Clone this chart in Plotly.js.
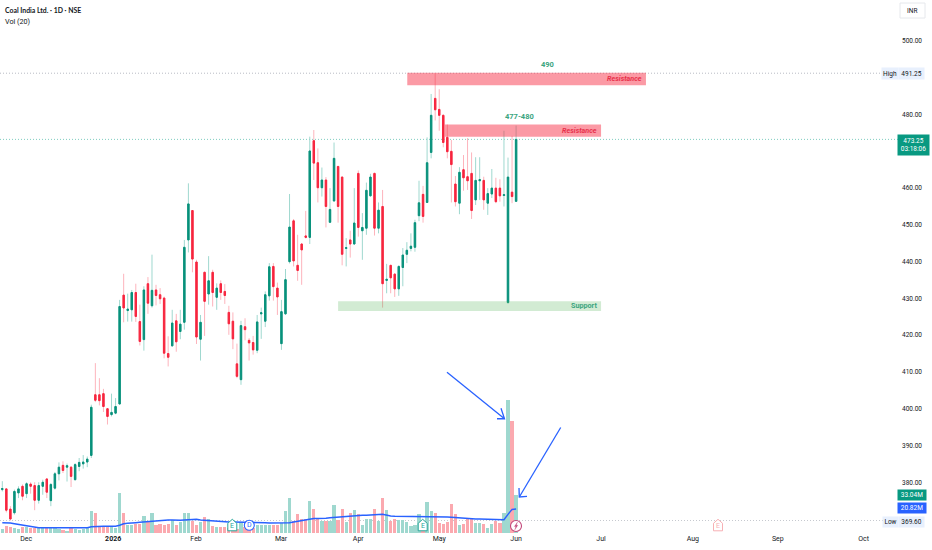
<!DOCTYPE html>
<html><head><meta charset="utf-8">
<script src="https://cdn.plot.ly/plotly-3.0.1.min.js"></script>
<style>html,body{margin:0;padding:0;background:#fff}#c{width:932px;height:550px}</style>
</head><body><div id="c"></div>
<script>
const opens=[378.0,378.2,372.7,371.7,377.1,378.9,376.9,379.5,379.1,375.1,
378.9,380.9,375.0,378.4,382.3,384.6,384.1,384.1,380.7,384.3,
385.0,385.5,387.3,403.8,403.8,404.1,400.0,398.4,398.8,401.3,
430.9,426.7,426.9,431.6,423.7,418.8,434.0,428.0,432.3,431.0,
430.1,415.0,417.1,423.9,421.0,423.5,445.9,453.9,439.9,418.9,
437.1,431.2,437.1,430.3,434.0,431.9,426.2,423.8,412.2,407.9,
422.3,418.6,418.0,415.9,425.8,423.8,430.7,438.7,432.8,417.7,
425.8,440.0,451.1,439.0,444.8,447.0,446.6,472.9,466.9,460.1,
462.2,450.7,456.5,465.9,463.0,443.6,445.9,444.8,464.0,448.4,
449.1,457.9,464.0,449.1,455.0,434.9,439.0,436.6,432.6,438.4,
442.0,443.6,443.9,452.5,458.3,456.1,469.7,484.4,481.4,479.8,
473.8,470.0,461.1,455.9,465.0,463.1,464.0,456.8,462.0,462.1,
455.9,458.4,460.0,460.0,458.0,428.9,458.9,456.4];
const closes=[378.3,372.4,370.0,377.5,378.2,376.2,379.6,378.9,375.1,379.1,
380.0,377.3,379.4,382.3,384.1,383.2,384.5,381.6,384.8,385.4,
385.5,386.3,400.4,402.3,402.2,400.6,397.9,399.0,400.6,427.8,
427.4,427.1,431.6,425.1,418.3,432.3,428.7,432.2,430.8,429.9,
415.1,414.0,423.3,418.2,423.0,443.9,455.7,440.7,419.5,423.5,
429.2,434.8,431.6,432.8,431.6,430.8,423.1,419.0,408.8,422.6,
421.5,417.9,416.0,423.6,426.1,431.0,438.6,433.2,430.4,426.4,
435.1,449.4,440.2,437.6,443.2,446.6,470.1,466.8,460.1,462.2,
455.0,454.2,468.1,455.0,442.0,443.8,444.8,450.5,449.3,449.3,
459.4,463.0,449.1,454.0,434.0,435.2,435.6,432.6,438.7,441.8,
443.1,444.2,450.6,456.0,452.3,466.9,479.8,481.3,479.8,472.4,
469.9,466.4,456.3,464.3,462.8,462.0,453.9,462.1,462.3,456.8,
458.5,460.0,456.3,457.9,458.2,463.0,457.7,473.25];
const highs=[380.3,378.3,373.5,378.0,378.9,379.4,380.0,380.0,380.0,380.0,
380.7,381.0,379.8,382.8,385.4,385.7,385.1,384.4,385.2,386.6,
387.4,387.0,401.1,412.4,408.3,405.4,400.2,404.1,402.9,429.6,
436.7,431.3,432.3,434.0,428.3,433.3,435.8,441.9,433.7,432.8,
430.5,419.7,426.9,425.8,426.9,445.9,461.3,454.0,440.5,425.5,
437.3,441.5,437.8,434.1,434.9,433.9,428.0,426.2,417.7,423.9,
424.6,419.2,419.8,425.5,427.5,431.9,439.6,439.6,434.3,429.6,
438.0,458.4,451.6,447.3,445.0,453.8,474.0,475.8,470.8,465.6,
463.0,460.0,472.4,466.0,463.2,446.4,448.4,460.0,464.8,453.2,
461.5,463.9,464.2,456.1,459.5,439.4,439.1,436.9,439.0,443.7,
445.3,447.7,451.4,462.0,460.6,473.8,485.6,491.25,486.9,480.0,
477.3,473.1,463.3,465.7,469.0,473.6,469.7,468.4,468.4,463.1,
460.0,465.2,462.8,462.4,475.6,468.3,474.2,477.0];
const lows=[377.5,371.8,369.6,371.2,375.7,375.1,375.7,376.9,372.4,374.2,
376.6,375.7,373.5,378.0,380.5,382.5,380.2,378.7,380.5,383.0,
383.7,384.1,386.6,401.8,400.9,399.1,395.7,397.9,398.5,401.1,
423.5,423.7,423.7,423.6,417.2,415.8,425.8,427.5,428.1,428.5,
413.7,411.5,416.9,415.5,418.9,421.5,442.5,437.1,417.6,413.1,
419.8,428.3,427.8,426.9,429.6,428.5,420.1,416.2,408.3,406.5,
418.6,413.1,414.7,415.1,419.0,422.2,429.4,429.4,425.5,416.0,
425.5,439.5,438.7,434.8,433.7,446.3,444.8,462.2,456.1,457.7,
449.3,450.5,456.3,450.6,439.0,438.7,441.1,444.6,446.8,440.5,
447.3,457.7,447.1,447.7,427.5,431.4,431.4,430.4,430.7,433.3,
439.6,442.8,442.7,451.0,450.6,456.0,468.1,478.4,475.6,471.1,
468.1,456.1,455.0,452.9,459.3,459.5,451.6,455.4,456.8,454.1,
452.7,457.3,455.9,456.3,455.0,428.5,455.9,456.3];
const volumes=[3.8,5.8,5.5,4.4,3.8,5.2,4.9,4.4,4.4,4.4,
4.4,4.4,4.6,4.6,3.5,2.3,2.0,5.2,3.2,2.9,
3.2,4.6,19.1,17.7,5.5,5.5,5.5,5.2,4.4,35.0,
17.4,6.7,6.7,8.1,8.1,14.8,10.2,17.4,7.25,7.5,
7.25,8.1,11.0,7.25,9.6,17.7,17.7,10.4,6.7,9.6,
14.2,11.9,6.1,5.5,4.9,5.5,4.4,3.8,3.8,9.6,
5.2,5.2,4.4,7.25,7.25,7.25,7.25,7.25,7.25,9.0,
19.1,30.5,10.7,16.2,11.9,11.9,27.8,20.6,12.5,10.2,
10.2,10.2,24.1,11.0,20.6,9.6,17.7,19.7,16.8,7.25,
12.5,12.5,20.6,10.4,30.5,19.7,10.4,11.9,11.6,11.0,
9.6,6.1,7.25,16.2,8.0,26.9,18.9,17.7,8.7,8.1,
9.6,25.0,16.2,7.25,7.5,12.5,12.5,8.7,8.7,7.5,
4.4,7.5,10.2,9.0,17.7,115.6,97.0,33.04];
const volumeMA=[9,9,8.7,8.1,7.5,6.7,6.1,5.5,4.9,4.6,
4.6,4.6,4.6,4.6,4.6,4.6,4.6,4.6,4.6,4.6,
4.6,4.6,5.5,5.8,5.8,5.8,5.8,5.8,5.8,6.7,
8.1,8.4,8.4,9,9.3,9.6,10.2,10.4,10.7,11,
11,11.3,11.3,11,11,11.3,11.6,11.6,11.9,11.3,
11,10.7,10.4,10.2,10.2,9.9,9.6,9.6,9.6,9.6,
9.6,9.3,9.3,9,9,9,8.7,8.7,8.4,8.4,
8.4,9,9.6,10.2,10.7,11.3,12.2,12.5,12.5,12.5,
12.8,13.3,13.6,13.6,13.9,14.5,15.1,15.4,15.4,15.4,
15.4,15.4,15.7,16,16.2,15.4,14.8,14.5,14.5,14.2,
14.2,13.9,13.9,13.9,13.9,14.2,14.2,14.2,13.9,13.9,
13.9,13.6,13.3,13,12.8,12.5,12.5,12.2,12.2,12.2,
11.9,11.9,11.9,11.9,11.6,16.2,20.5,20.82];
const dateTickPos=[5.9,27.4,47.9,68.9,88,108,127,148,170.7,191.7,212.9];
const dateTickText=['Dec','<b>2026</b>','Feb','Mar','Apr','May','Jun','Jul','Aug','Sep','Oct'];
const priceTicks=[500,480,460,450,440,430,420,410,400,390,380];

const FONT='Roboto,"Liberation Sans",sans-serif';
const W=932,H=550,PW=898,PH=532.7;
const idx=opens.map((_,i)=>i);
const up='#08917B',dn='#F7253E',upL='#9FD8CF',dnL='#FDB4BC';
const fx=x=>x/PW, fy=y=>1-y/PH;
const bodyHi=opens.map((o,i)=>Math.max(o,closes[i]));
const bodyLo=opens.map((o,i)=>Math.min(o,closes[i]));

const traces=[
 {type:'bar',x:idx,y:volumes,yaxis:'y',width:0.8,hoverinfo:'skip',
  marker:{color:opens.map((o,i)=>closes[i]>=o?upL:'#FBA9AF'),line:{width:0}}},
 {type:'scatter',mode:'lines',x:idx,y:volumeMA,yaxis:'y',hoverinfo:'skip',
  line:{color:'#2962FF',width:1.5,shape:'linear'}},
 {type:'candlestick',x:idx,open:opens,high:highs,low:lows,close:closes,yaxis:'y2',hoverinfo:'skip',
  increasing:{line:{color:upL,width:1},fillcolor:upL},
  decreasing:{line:{color:dnL,width:1},fillcolor:dnL}},
 {type:'candlestick',x:idx,open:opens,high:bodyHi,low:bodyLo,close:closes,yaxis:'y2',hoverinfo:'skip',
  increasing:{line:{color:up,width:1},fillcolor:up},
  decreasing:{line:{color:dn,width:1},fillcolor:dn}}
];

const rect=(x0,x1,y0,y1,c)=>({type:'rect',xref:'x',yref:'y2',x0,x1,y0,y1,fillcolor:c,line:{width:0},layer:'above'});
const path=(pts,c,w,fill)=>({type:'path',xref:'paper',yref:'paper',layer:'above',
  path:'M '+pts.map(p=>fx(p[0])+' '+fy(p[1])).join(' L ')+(fill?' Z':''),
  line:{color:c,width:w},fillcolor:fill||'rgba(0,0,0,0)'});
const hline=(p,c,x1)=>({type:'line',xref:'paper',yref:'y2',x0:0,x1:x1,y0:p,y1:p,layer:'below',line:{color:c,width:1,dash:'1px,2px'}});
const house=(cx,c)=>path([[cx-4.5,530.5],[cx-4.5,523],[cx,519],[cx+4.5,523],[cx+4.5,530.5]],c,1,'#fff');
const circle=(cx,cy,r,c)=>({type:'circle',xref:'paper',yref:'paper',layer:'above',x0:fx(cx-r),x1:fx(cx+r),y0:fy(cy+r),y1:fy(cy-r),line:{color:c,width:1.1},fillcolor:'#fff'});

const shapes=[
 hline(491.25,'#B8BCC4',1),hline(369.6,'#C6C9CF',1),hline(473.25,'#7FCDC0',1),
 rect(100.1,159.1,488.0,491.4,'rgba(247,44,66,0.48)'),
 rect(109.4,148,474.0,477.3,'rgba(247,44,66,0.48)'),
 rect(83,148,426.6,429.25,'rgba(76,175,80,0.25)'),
 path([[447,372],[504.5,418.5]],'#2962FF',1.3),
 path([[497,418.5],[504.5,418.5],[501,408]],'#2962FF',1.3),
 path([[560.7,427.3],[519.3,496.7]],'#2962FF',1.3),
 path([[527,496],[519.3,496.7],[519,487.7]],'#2962FF',1.3),
 house(232.3,'#26A69A'),circle(249.3,525,5,'#2962FF'),house(422.7,'#26A69A'),
 circle(516,525.7,5.5,'#C2477A'),
 path([[517.5,521.8],[514.4,526.2],[515.9,526.2],[514.8,529.5],[517.8,525],[516.2,525]],'#C2477A',0.3,'#C2477A'),
 house(718,'#F7B0B4'),
 {type:'rect',xref:'paper',yref:'paper',layer:'above',x0:fx(900),x1:fx(925),y0:fy(18),y1:fy(3),line:{color:'#E6E8EC',width:1},fillcolor:'#fff'}
];
const txt=(x,y,t,o={})=>Object.assign({xref:'paper',yref:'paper',x:fx(x),y:fy(y),text:t,showarrow:false,
  xanchor:o.a||'center',yanchor:'middle',align:o.al||'center',
  font:{family:o.f||FONT,size:o.s||6.5,color:o.c||'#131722'},borderpad:0},
  o.bg?{bgcolor:o.bg,width:o.w,height:o.h}:{});
const G='#3BA57F';
const annotations=[
 txt(4,10,'<b>Coal India Ltd. · 1D · NSE</b>',{a:'left',s:6.9,f:'Lato'}),
 txt(4,21,'Vol (20)',{a:'left',s:7.2}),
 txt(547,64,'<b>490</b>',{c:G,s:7.5}),
 txt(519,116,'<b>477-480</b>',{c:G,s:7.5}),
 txt(643,78,'<b><i>Resistance</i></b>',{a:'right',c:'#E8304A',s:7.2}),
 txt(598,130,'<b><i>Resistance</i></b>',{a:'right',c:'#E8304A',s:7.2}),
 txt(598,305,'<b>Support</b>',{a:'right',c:G,s:7.2}),
 txt(232.3,525.5,'E',{c:'#26A69A',s:7}),
 txt(249.3,525,'D',{c:'#2962FF',s:7}),
 txt(422.7,525.5,'E',{c:'#26A69A',s:7}),
 txt(718,525.5,'E',{c:'#F7B0B4',s:7}),
 txt(912.5,10.5,'INR',{s:6.5}),
 txt(890,73.8,'High',{bg:'#E8F0FD',w:16,h:11}),
 txt(911,73.8,'491.25',{bg:'#E8F0FD',w:25,h:11}),
 txt(913.8,144.7,'473.25<br>03:18:06',{c:'#fff',bg:'#089981',w:31,h:19.5}),
 txt(912,495,'33.04M',{c:'#fff',bg:'#089981',w:28,h:10}),
 txt(912,507.5,'20.82M',{c:'#fff',bg:'#2962FF',w:28,h:10}),
 txt(890,521.3,'Low',{bg:'#E8F0FD',w:15,h:10}),
 txt(911,521.3,'369.60',{bg:'#E8F0FD',w:25,h:10})
];
const layout={
 width:W,height:H,showlegend:false,paper_bgcolor:'#fff',plot_bgcolor:'#fff',
 margin:{l:0,r:W-PW,t:0,b:H-PH,pad:0},bargap:0,boxgap:0.5,boxmode:'overlay',dragmode:false,
 font:{family:FONT,size:7,color:'#131722'},
 xaxis:{range:[-0.568,221.4],type:'linear',tickmode:'array',tickvals:dateTickPos,ticktext:dateTickText,
  showgrid:false,zeroline:false,showline:false,ticks:'',rangeslider:{visible:false},
  tickfont:{family:FONT,size:7,color:'#131722'},fixedrange:true},
 yaxis:{range:[0,463],showgrid:false,zeroline:false,showticklabels:false,ticks:'',showline:false,fixedrange:true},
 yaxis2:{range:[366.2,511.16],overlaying:'y',side:'right',tickmode:'array',tickvals:priceTicks,ticklabelstandoff:3,
  ticktext:priceTicks.map(v=>v.toFixed(2)),showgrid:false,zeroline:false,showline:false,ticks:'',
  tickfont:{family:FONT,size:6.5,color:'#131722'},fixedrange:true},
 shapes,annotations
};
Plotly.newPlot('c',traces,layout,{displayModeBar:false,staticPlot:true});
</script></body></html>
